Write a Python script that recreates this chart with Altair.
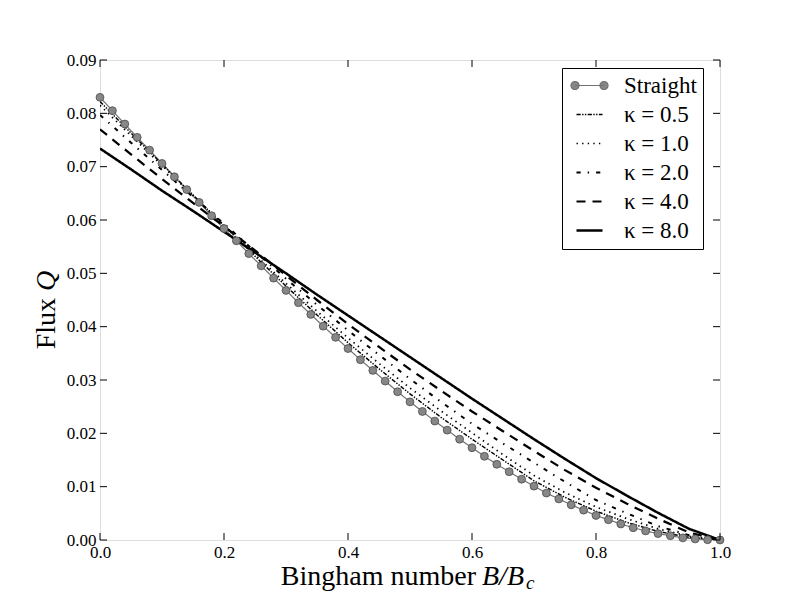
import altair as alt
import pandas as pd

# ---------------- data ----------------
series_names = ["Straight", "κ = 0.5", "κ = 1.0", "κ = 2.0", "κ = 4.0", "κ = 8.0"]

x_straight = [round(0.02 * i, 2) for i in range(51)]
q_straight = [0.0830, 0.0805, 0.0780, 0.0755, 0.0731, 0.0706, 0.0681, 0.0657, 0.0633, 0.0608,
              0.0584, 0.0561, 0.0537, 0.0514, 0.0491, 0.0468, 0.0445, 0.0423, 0.0401, 0.0380,
              0.0359, 0.0338, 0.0318, 0.0298, 0.0278, 0.0259, 0.0241, 0.0223, 0.0206, 0.0189,
              0.0173, 0.0157, 0.0142, 0.0128, 0.0114, 0.0101, 0.0088, 0.0077, 0.0066, 0.0056,
              0.0046, 0.0038, 0.0030, 0.0023, 0.0017, 0.0012, 0.0008, 0.0004, 0.0002, 0.00005,
              0.0]

x_curved = [0.00, 0.05, 0.10, 0.15, 0.20, 0.25, 0.30, 0.35, 0.40, 0.45, 0.50,
            0.55, 0.60, 0.65, 0.70, 0.75, 0.80, 0.85, 0.90, 0.95, 1.00]
q_k05 = [0.0822, 0.0763, 0.0705, 0.0647, 0.0589, 0.0532, 0.0476, 0.0422, 0.0370, 0.0321, 0.0274,
         0.0230, 0.0189, 0.0150, 0.0111, 0.0080, 0.0054, 0.0033, 0.0016, 0.0005, 0.0]
q_k1 = [0.0815, 0.0758, 0.0702, 0.0646, 0.0590, 0.0535, 0.0481, 0.0429, 0.0379, 0.0331, 0.0285,
        0.0242, 0.0201, 0.0160, 0.0121, 0.0089, 0.0062, 0.0040, 0.0021, 0.0007, 0.0]
q_k2 = [0.0797, 0.0745, 0.0694, 0.0643, 0.0593, 0.0541, 0.0490, 0.0441, 0.0393, 0.0347, 0.0302,
        0.0259, 0.0218, 0.0181, 0.0145, 0.0109, 0.0075, 0.0050, 0.0026, 0.0009, 0.0]
q_k4 = [0.0770, 0.0723, 0.0677, 0.0632, 0.0588, 0.0543, 0.0496, 0.0450, 0.0405, 0.0362, 0.0320,
        0.0280, 0.0241, 0.0204, 0.0167, 0.0131, 0.0098, 0.0068, 0.0040, 0.0014, 0.0]
q_k8 = [0.0734, 0.0695, 0.0655, 0.0617, 0.0578, 0.0539, 0.0500, 0.0460, 0.0421, 0.0382, 0.0343,
        0.0304, 0.0265, 0.0227, 0.0189, 0.0152, 0.0116, 0.0083, 0.0051, 0.0021, 0.0]

x_ticks = [0.0, 0.2, 0.4, 0.6, 0.8, 1.0]
y_ticks = [0.00, 0.01, 0.02, 0.03, 0.04, 0.05, 0.06, 0.07, 0.08, 0.09]

# ---------------- tables ----------------
rows = [{"series": "Straight", "B": x, "Q": q} for x, q in zip(x_straight, q_straight)]
for name, qs in zip(series_names[1:], [q_k05, q_k1, q_k2, q_k4, q_k8]):
    rows += [{"series": name, "B": x, "Q": q} for x, q in zip(x_curved, qs)]
df = pd.DataFrame(rows)
df_pts = df[df["series"] == "Straight"]

XMAX, YMAX = 1.0, 0.09
tx = 7 / 620 * XMAX   # inward tick length in data units
ty = 7 / 480 * YMAX
tick_rows = []
for v in x_ticks:
    tick_rows.append({"x": v, "x2": v, "y": 0.0, "y2": ty})
    tick_rows.append({"x": v, "x2": v, "y": YMAX, "y2": YMAX - ty})
for v in y_ticks:
    tick_rows.append({"x": 0.0, "x2": tx, "y": v, "y2": v})
    tick_rows.append({"x": XMAX, "x2": XMAX - tx, "y": v, "y2": v})
df_ticks = pd.DataFrame(tick_rows)

# ---------------- scales ----------------
dom = series_names
stroke_scale = alt.Scale(domain=dom, range=["#727272", "black", "black", "black", "black", "black"])
fill_scale = alt.Scale(domain=dom, range=["#878787", "black", "black", "black", "black", "black"])
dash_scale = alt.Scale(domain=dom, range=[[1, 0], [4.2, 1.4, 1.4, 1.4, 1.4, 1.4], [1.4, 4.2],
                                          [4.2, 7, 1.4, 7], [9, 7], [1, 0]])
width_scale = alt.Scale(domain=dom, range=[1.2, 2.5, 2.5, 2.5, 2.5, 2.5])
straight_sym = ("M-1.45,0L1.45,0"
                "M-1.85,0A0.4,0.4,0,1,0,-1.05,0A0.4,0.4,0,1,0,-1.85,0"
                "M1.05,0A0.4,0.4,0,1,0,1.85,0A0.4,0.4,0,1,0,1.05,0")
line_sym = "M-1.3,0L1.3,0"
shape_scale = alt.Scale(domain=dom, range=[straight_sym] + [line_sym] * 5)

FONT = "Liberation Serif"

xenc = alt.X("B:Q", scale=alt.Scale(domain=[0, XMAX], nice=False),
             axis=alt.Axis(values=x_ticks, format=".1f", title=None, grid=False, ticks=False,
                           domain=False, labelFont=FONT, labelFontSize=17, labelPadding=4,
                           labelColor="black", labelFlush=False))
yenc = alt.Y("Q:Q", scale=alt.Scale(domain=[0, YMAX], nice=False),
             axis=alt.Axis(values=y_ticks, format=".2f", title=None, grid=False, ticks=False,
                           domain=False, labelFont=FONT, labelFontSize=17, labelPadding=4,
                           labelColor="black", labelFlush=False))

legend = alt.Legend(title=None, orient="none", legendX=462, legendY=8,
                    labelFont=FONT, labelFontSize=23, labelColor="black",
                    strokeColor="black", fillColor="white", padding=6,
                    symbolSize=400, symbolOffset=10, labelOffset=23, rowPadding=5,
                    symbolStrokeWidth=2.5, symbolOpacity=1, labelLimit=200)

lines = alt.Chart(df).mark_line(clip=True).encode(
    x=xenc, y=yenc,
    stroke=alt.Stroke("series:N", scale=stroke_scale, legend=legend, sort=dom),
    strokeDash=alt.StrokeDash("series:N", scale=dash_scale, legend=legend, sort=dom),
    strokeWidth=alt.StrokeWidth("series:N", scale=width_scale, legend=legend, sort=dom),
    detail="series:N",
)

# markers of the straight-pipe series
points = alt.Chart(df_pts).mark_point(filled=True, shape="circle", size=62,
                                      fill="#878787", stroke="#4a4a4a",
                                      strokeWidth=0.8, opacity=1).encode(
    x="B:Q", y="Q:Q")

# legend-only layer (no rows drawn) that gives the legend its symbols
legend_layer = alt.Chart(df_pts).transform_filter("false").mark_point(
    filled=True, opacity=1).encode(
    x="B:Q", y="Q:Q",
    fill=alt.Fill("series:N", scale=fill_scale, legend=legend, sort=dom),
    shape=alt.Shape("series:N", scale=shape_scale, legend=legend, sort=dom),
)

ticks = alt.Chart(df_ticks).mark_rule(color="black", strokeWidth=1).encode(
    x="x:Q", x2="x2:Q", y="y:Q", y2="y2:Q")

title_style = dict(font=FONT, fontSize=28, color="black", baseline="alphabetic")
xt1 = alt.Chart(pd.DataFrame({"t": ["Bingham number"]})).mark_text(
    align="right", **title_style).encode(x=alt.value(376), y=alt.value(525), text="t:N")
xt2 = alt.Chart(pd.DataFrame({"t": ["B/B"]})).mark_text(
    align="left", fontStyle="italic", **title_style).encode(x=alt.value(382), y=alt.value(525), text="t:N")
xt3 = alt.Chart(pd.DataFrame({"t": ["c"]})).mark_text(
    align="left", fontStyle="italic", font=FONT, fontSize=19, color="black",
    baseline="alphabetic").encode(x=alt.value(426), y=alt.value(529), text="t:N")
yt1 = alt.Chart(pd.DataFrame({"t": ["Flux"]})).mark_text(
    align="right", angle=270, **title_style).encode(x=alt.value(-45), y=alt.value(238), text="t:N")
yt2 = alt.Chart(pd.DataFrame({"t": ["Q"]})).mark_text(
    align="left", angle=270, fontStyle="italic", **title_style).encode(
    x=alt.value(-45), y=alt.value(231), text="t:N")

chart = alt.layer(lines, points, legend_layer, ticks, xt1, xt2, xt3, yt1, yt2).properties(
    width=620, height=480,
    autosize=alt.AutoSizeParams(type="none"),
    padding={"left": 92, "top": 52, "right": 72, "bottom": 58},
).configure_view(stroke="black", strokeWidth=1.2).configure(background="white")

chart.save("out.html", embed_options={"renderer": "svg", "actions": False})
